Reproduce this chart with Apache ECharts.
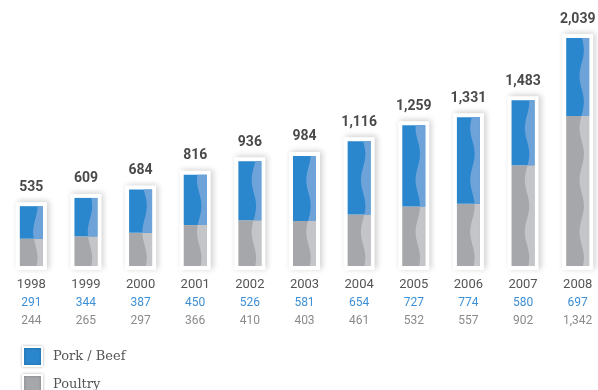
<!DOCTYPE html>
<html>
<head>
<meta charset="utf-8">
<script src="https://cdn.jsdelivr.net/npm/echarts@6/dist/echarts.min.js"></script>
<style>
html, body { margin: 0; padding: 0; background: #fff; }
#chart { width: 598px; height: 390px; }
</style>
</head>
<body>
<div id="chart"></div>
<script>
var years = ['1998', '1999', '2000', '2001', '2002', '2003', '2004', '2005', '2006', '2007', '2008'];
var porkBeef = [291, 344, 387, 450, 526, 581, 654, 727, 774, 580, 697];
var poultry = [244, 265, 297, 366, 410, 403, 461, 532, 557, 902, 1342];
var totals = ['535', '609', '684', '816', '936', '984', '1,116', '1,259', '1,331', '1,483', '2,039'];
var seriesNames = ['Pork / Beef', 'Poultry'];

var BLUE = '#2b87cd', BLUE_LIGHT = '#6ea3da';
var GRAY = '#a6a7aa', GRAY_LIGHT = '#c4c5c8';
var BAR_W = 23;

var dom = document.getElementById('chart');
var chart = echarts.init(dom);

// light wavy strip on the right side of a bar segment
function wave(cx, baseY, yBottom, yTop, color) {
    var pts = [];
    var xr = cx + BAR_W / 2;
    function edge(y) {
        return cx + 4 + 2.2 * Math.sin((baseY - y) / 52 * 2 * Math.PI + 0.6);
    }
    for (var y = yBottom; y > yTop; y -= 1.5) {
        pts.push([edge(y), y]);
    }
    pts.push([edge(yTop), yTop]);
    pts.push([xr, yTop]);
    pts.push([xr, yBottom]);
    return { type: 'polygon', shape: { points: pts }, style: { fill: color } };
}

function segment(dark, light, withFrame) {
    return function (params, api) {
        var i = api.value(0);
        var base = api.coord([i, 0]);
        var lo = api.coord([i, api.value(1)]);
        var hi = api.coord([i, api.value(2)]);
        var cx = lo[0];
        var x = cx - BAR_W / 2;
        var children = [];
        if (withFrame) {
            var top = api.coord([i, api.value(3)]);
            children.push({
                type: 'rect',
                shape: { x: x - 4, y: top[1] - 4, width: BAR_W + 8, height: base[1] - top[1] + 8 },
                style: { fill: '#fff', shadowBlur: 6, shadowOffsetX: 2, shadowOffsetY: -1, shadowColor: 'rgba(0,0,0,0.2)' }
            });
        }
        children.push({
            type: 'rect',
            shape: { x: x, y: hi[1], width: BAR_W, height: lo[1] - hi[1] },
            style: { fill: dark }
        });
        children.push(wave(cx, base[1], lo[1], hi[1], light));
        if (!withFrame) {
            children.push({
                type: 'text',
                style: {
                    text: totals[i], x: cx, y: hi[1] - 19,
                    align: 'center', verticalAlign: 'middle',
                    fontFamily: 'Roboto', fontWeight: 'bold', fontSize: 14, fill: '#4a4a4a'
                }
            });
        }
        return { type: 'group', children: children };
    };
}

var poultryData = years.map(function (y, i) {
    return [i, 0, poultry[i], poultry[i] + porkBeef[i]];
});
var porkData = years.map(function (y, i) {
    return [i, poultry[i], poultry[i] + porkBeef[i]];
});

chart.setOption({
    animation: false,
    grid: { left: 4, width: 601, top: 20, bottom: 124, containLabel: false, outerBoundsMode: 'none' },
    legend: {
        data: seriesNames,
        orient: 'vertical',
        left: 22,
        top: 346,
        height: 60,
        padding: 0,
        icon: 'rect',
        itemWidth: 19,
        itemHeight: 19,
        itemGap: 7,
        itemStyle: { borderColor: '#fff', borderWidth: 2, shadowBlur: 3, shadowColor: 'rgba(0,0,0,0.25)' },
        textStyle: { fontFamily: 'DejaVu Serif', fontSize: 13, color: '#555', padding: [0, 0, 0, 6] }
    },
    xAxis: {
        type: 'category',
        data: years,
        axisLine: { show: false },
        axisTick: { show: false },
        axisLabel: {
            interval: 0,
            margin: 10,
            formatter: function (v, i) {
                return '{y|' + v + '}\n{p|' + porkBeef[i] + '}\n{q|' + poultry[i].toLocaleString('en-US') + '}';
            },
            rich: {
                y: { fontFamily: 'Roboto', fontSize: 13, color: '#555', lineHeight: 18 },
                p: { fontFamily: 'Roboto', fontSize: 12, color: '#3d8fd6', lineHeight: 18 },
                q: { fontFamily: 'Roboto', fontSize: 12, color: '#8a8a8a', lineHeight: 18 }
            }
        }
    },
    yAxis: { type: 'value', min: 0, max: 2200, show: false, splitLine: { show: false } },
    series: [
        {
            name: 'Poultry',
            type: 'custom',
            itemStyle: { color: GRAY },
            renderItem: segment(GRAY, GRAY_LIGHT, true),
            encode: { x: 0, y: [1, 2, 3] },
            data: poultryData
        },
        {
            name: 'Pork / Beef',
            type: 'custom',
            itemStyle: { color: BLUE },
            renderItem: segment(BLUE, BLUE_LIGHT, false),
            encode: { x: 0, y: [1, 2] },
            data: porkData
        }
    ]
});
</script>
</body>
</html>
